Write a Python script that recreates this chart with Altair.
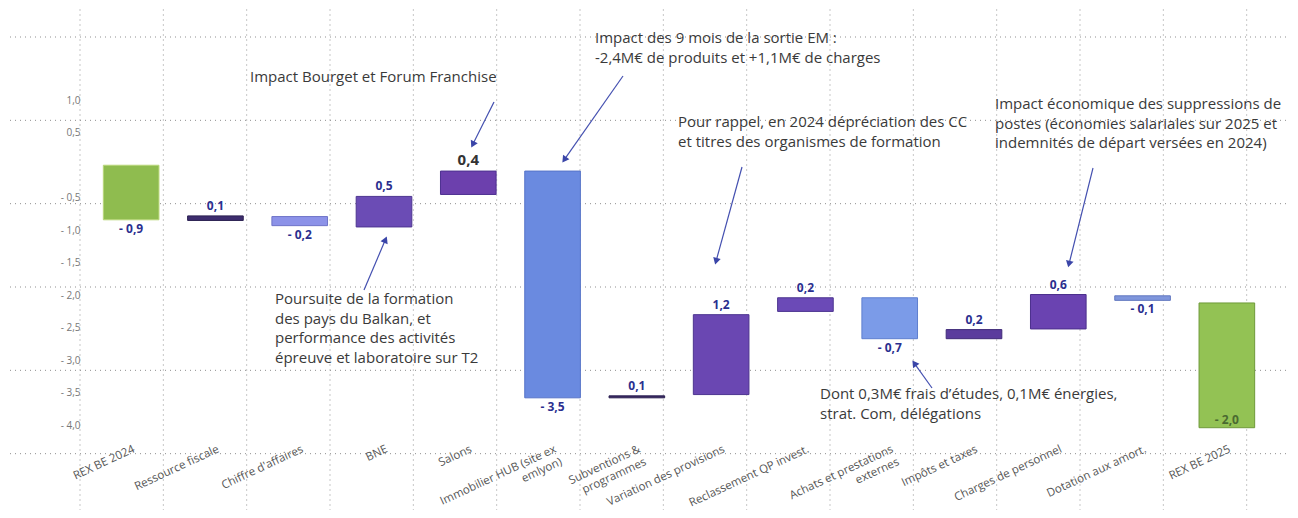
import json
import math
import altair as alt
import pandas as pd

# ---------------- data ----------------
categories = [
    "REX BE 2024", "Ressource fiscale", "Chiffre d'affaires", "BNE", "Salons",
    "Immobilier HUB (site ex|emlyon)", "Subventions &|programmes",
    "Variation des provisions", "Reclassement QP invest.",
    "Achats et prestations|externes", "Impôts et taxes", "Charges de personnel",
    "Dotation aux amort.", "REX BE 2025",
]
bar_start = [0.0, -0.78, -0.79, -0.48, -0.09, -0.09, -3.55, -2.30, -2.04, -2.04, -2.53, -1.99, -2.01, -2.12]
bar_end = [-0.84, -0.85, -0.93, -0.95, -0.45, -3.58, -3.58, -3.53, -2.25, -2.67, -2.67, -2.52, -2.08, -4.04]
value_labels = ["- 0,9", "0,1", "- 0,2", "0,5", "0,4", "- 3,5", "0,1", "1,2", "0,2",
                "- 0,7", "0,2", "0,6", "- 0,1", "- 2,0"]
y_tick_values = [1.0, 0.5, -0.5, -1.0, -1.5, -2.0, -2.5, -3.0, -3.5, -4.0]

annotation_texts = [
    "Impact Bourget et Forum Franchise",
    "Impact des 9 mois de la sortie EM :\n-2,4M€ de produits et +1,1M€ de charges",
    "Pour rappel, en 2024 dépréciation des CC\net titres des organismes de formation",
    "Impact économique des suppressions de\npostes (économies salariales sur 2025 et\nindemnités de départ versées en 2024)",
    "Poursuite de la formation\ndes pays du Balkan, et\nperformance des activités\népreuve et laboratoire sur T2",
    "Dont 0,3M€ frais d’études, 0,1M€ énergies,\nstrat. Com, délégations",
]

# ---------------- styles / layout ----------------
bar_colors = ["#8fbc4f", "#3d2d6e", "#8c92e8", "#6b4cb5", "#6c40ad", "#6a8ae0", "#3b2a63",
              "#6a47b2", "#6b4ab7", "#7b9be8", "#5b3c9d", "#6a43b1", "#7f96dc", "#93c254"]
bar_strokes = ["#b9d77a", "#2a1f50", "#6f74c8", "#4d3590", "#4d3090", "#5673c8", "#2a1f50",
               "#4d3590", "#4d3590", "#5f7fcf", "#3f2a78", "#4b2f8c", "#6278c0", "#6f9a3a"]

W, H = 1180, 434
X_DOM = [-0.5, 13.5]
Y_DOM = [-4.26, 2.42]
PX_X = W / (X_DOM[1] - X_DOM[0])
PX_Y = H / (Y_DOM[1] - Y_DOM[0])
LEFT_PAD = 81
FONT = "Open Sans"

# background grid, in grid units (one unit per grid cell)
GRID_X_DOM = [0.108, 14.268]
GRID_Y_DOM = [-0.348, 4.86]
GRID_X_SPAN = [-0.96, 14.62]
GRID_Y_SPAN = [-0.45, 5.78]


def to_x(px):
    return X_DOM[0] + (px - 8 - LEFT_PAD) / PX_X


def to_y(py):
    return Y_DOM[1] - (py - 8) / PX_Y


ann_px = [(250, 70), (595, 31), (678, 115), (995, 97), (275, 292), (820, 387)]
arrow_px = [
    ((494, 102), (471, 148)),
    ((623, 76), (562, 163)),
    ((742, 167), (715, 265)),
    ((1093, 168), (1068, 268)),
    ((364, 290), (387, 236)),
    ((932, 388), (912, 360)),
]

# ---------------- tables ----------------
bars = pd.DataFrame({
    "i": list(range(len(categories))),
    "cat": categories,
    "start": bar_start,
    "end": bar_end,
    "label": value_labels,
})
bars["lo"] = bars[["start", "end"]].min(axis=1)
bars["hi"] = bars[["start", "end"]].max(axis=1)

ann = pd.DataFrame({
    "x": [to_x(p[0]) for p in ann_px],
    "y": [to_y(p[1]) for p in ann_px],
    "text": annotation_texts,
})

arr_rows, head_rows = [], []
for (x1, y1), (x2, y2) in arrow_px:
    dx, dy = x2 - x1, y2 - y1
    L = math.hypot(dx, dy)
    ux, uy = dx / L, dy / L
    arr_rows.append({"x": to_x(x1), "y": to_y(y1),
                     "x2": to_x(x2 - ux * 5), "y2": to_y(y2 - uy * 5)})
    ang = math.degrees(math.atan2(dx, -dy)) % 360
    head_rows.append({"x": to_x(x2 - ux * 4), "y": to_y(y2 - uy * 4), "ang": ang})
arrows = pd.DataFrame(arr_rows)
heads = pd.DataFrame(head_rows)

grid_v = pd.DataFrame({"gx": list(range(15))})
grid_h = pd.DataFrame({"gy": list(range(6))})

# ---------------- scales / axes ----------------
xs = alt.Scale(domain=X_DOM, nice=False, zero=False)
ys = alt.Scale(domain=Y_DOM, nice=False, zero=False)

cat_arr = json.dumps(categories, ensure_ascii=False)
x_axis = alt.Axis(
    values=list(range(len(categories))),
    labelExpr=f"split({cat_arr}[datum.value], '|')",
    title=None, domain=False, ticks=False, grid=False,
    labelAngle=335, labelAlign="right", labelBaseline="top",
    labelPadding=1, labelFontSize=11.5, labelColor="#555555", labelFont=FONT,
    labelOverlap=False, labelFlush=False, labelLineHeight=14, labelBound=False,
)
y_axis = alt.Axis(
    values=y_tick_values,
    labelExpr="datum.value < 0 ? '- ' + replace(format(-datum.value, '.1f'), '.', ',') : replace(format(datum.value, '.1f'), '.', ',')",
    title=None, domain=False, ticks=False, grid=False,
    labelPadding=9, labelFontSize=10, labelColor="#777777", labelFont=FONT,
    labelOverlap=False,
)

color_scale = alt.Scale(domain=categories, range=bar_colors)
stroke_scale = alt.Scale(domain=categories, range=bar_strokes)

base = alt.Chart(bars)

bar_layer = base.transform_calculate(
    x0="datum.i - 0.33", x1="datum.i + 0.33"
).mark_bar(strokeWidth=1).encode(
    x=alt.X("x0:Q", scale=xs, axis=x_axis),
    x2="x1:Q",
    y=alt.Y("hi:Q", scale=ys, axis=y_axis),
    y2="lo:Q",
    color=alt.Color("cat:N", scale=color_scale, legend=None),
    stroke=alt.Stroke("cat:N", scale=stroke_scale, legend=None),
)

above = base.transform_filter("indexof(datum.label, '-') < 0").mark_text(
    font=FONT, fontWeight="bold", baseline="bottom", dy=-3
).encode(
    x=alt.X("i:Q", scale=xs),
    y=alt.Y("hi:Q", scale=ys),
    text="label:N",
    size=alt.condition("datum.i == 4", alt.value(15), alt.value(12)),
    color=alt.condition("datum.i == 4", alt.value("#333333"), alt.value("#2b2f8f")),
)
below = base.transform_filter("indexof(datum.label, '-') >= 0 && datum.i < 13").mark_text(
    font=FONT, fontWeight="bold", baseline="top", dy=4, fontSize=12, color="#2b2f8f"
).encode(
    x=alt.X("i:Q", scale=xs),
    y=alt.Y("lo:Q", scale=ys),
    text="label:N",
)
inside = base.transform_filter("datum.i == 13").mark_text(
    font=FONT, fontWeight="bold", baseline="bottom", dy=-1, fontSize=12, color="#4a6a30"
).encode(
    x=alt.X("i:Q", scale=xs),
    y=alt.Y("lo:Q", scale=ys),
    text="label:N",
)

ann_layer = alt.Chart(ann).mark_text(
    font=FONT, fontSize=15, color="#3a3a3a", align="left", baseline="top",
    lineBreak="\n", lineHeight=19.5,
).encode(
    x=alt.X("x:Q", scale=xs),
    y=alt.Y("y:Q", scale=ys),
    text="text:N",
)

arrow_layer = alt.Chart(arrows).mark_rule(color="#4450b0", strokeWidth=1.2).encode(
    x=alt.X("x:Q", scale=xs), y=alt.Y("y:Q", scale=ys), x2="x2:Q", y2="y2:Q"
)
head_layer = alt.Chart(heads).mark_point(
    shape="triangle-up", filled=True, color="#3a45a8", size=60, opacity=1
).encode(
    x=alt.X("x:Q", scale=xs), y=alt.Y("y:Q", scale=ys),
    angle=alt.Angle("ang:Q", scale=None),
)

main = alt.layer(bar_layer, above, below, inside, ann_layer, arrow_layer, head_layer)

# background dotted grid (own scales, spanning the whole page)
gxs = alt.Scale(domain=GRID_X_DOM, nice=False, zero=False)
gys = alt.Scale(domain=GRID_Y_DOM, nice=False, zero=False, reverse=True)
gv = alt.Chart(grid_v).mark_rule(color="#8f8f8f", strokeDash=[1, 4], strokeWidth=1).encode(
    x=alt.X("gx:Q", scale=gxs, axis=None),
    y=alt.Y(datum=GRID_Y_SPAN[0], type="quantitative", scale=gys, axis=None),
    y2=alt.Y2(datum=GRID_Y_SPAN[1]),
)
gh = alt.Chart(grid_h).mark_rule(color="#8f8f8f", strokeDash=[1, 4], strokeWidth=1).encode(
    y=alt.Y("gy:Q", scale=gys, axis=None),
    x=alt.X(datum=GRID_X_SPAN[0], type="quantitative", scale=gxs, axis=None),
    x2=alt.X2(datum=GRID_X_SPAN[1]),
)
grid = alt.layer(gv, gh)

chart = alt.layer(grid, main).resolve_scale(x="independent", y="independent").properties(
    width=W, height=H,
    background="white",
    autosize=alt.AutoSizeParams(type="none"),
    padding={"left": LEFT_PAD, "top": 0, "right": 21, "bottom": 68},
).configure_view(strokeWidth=0, stroke="transparent")

chart.save("out.html", embed_options={"renderer": "svg", "actions": False})
